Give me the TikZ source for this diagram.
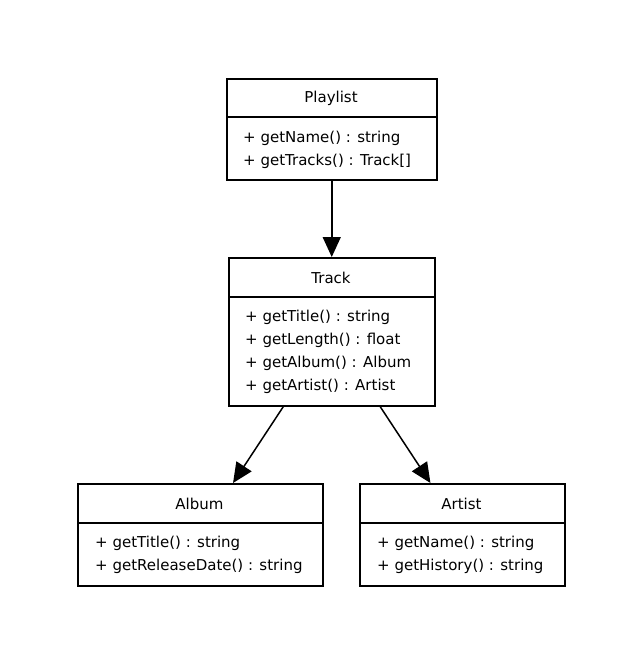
\documentclass[tikz,border=0pt]{standalone}
\usepackage{fontspec}
\setmainfont{DejaVu Sans}
\usetikzlibrary{arrows.meta,calc}
\begin{document}
\begin{tikzpicture}[x=1pt,y=-1pt,
  cls/.style={draw,line width=1.5pt,rectangle,inner sep=0pt,anchor=north west},
  sep/.style={line width=1.5pt},
  ttl/.style={font=\fontsize{15}{17}\selectfont,inner sep=0pt},
  mth/.style={font=\fontsize{15}{17}\selectfont,inner sep=0pt,anchor=west},
  arr/.style={line width=1.5pt,-{Triangle[length=20pt,width=18pt]}}]
\useasboundingbox (0,0) rectangle (642,670);
% Playlist
\node[cls,minimum width=210pt,minimum height=101pt] (playlist) at (226,78) {};
\draw[sep] ([yshift=-39pt]playlist.north west) -- ([yshift=-39pt]playlist.north east);
\node[ttl] (playlistT) at (331,98) {Playlist};
\node[mth] (playlistM1) at (243,138) {+ getName() : string};
\node[mth] (playlistM2) at (243,161) {+ getTracks() : Track[]};
% Track
\node[cls,minimum width=206pt,minimum height=148pt] (track) at (228,257) {};
\draw[sep] ([yshift=-40pt]track.north west) -- ([yshift=-40pt]track.north east);
\node[ttl] (trackT) at (331,278) {Track};
\node[mth] (trackM1) at (245,317) {+ getTitle() : string};
\node[mth] (trackM2) at (245,340) {+ getLength() : float};
\node[mth] (trackM3) at (245,363) {+ getAlbum() : Album};
\node[mth] (trackM4) at (245,386) {+ getArtist() : Artist};
% Album
\node[cls,minimum width=245pt,minimum height=102pt] (album) at (77,483) {};
\draw[sep] ([yshift=-40pt]album.north west) -- ([yshift=-40pt]album.north east);
\node[ttl] (albumT) at (199.5,504) {Album};
\node[mth] (albumM1) at (95,543) {+ getTitle() : string};
\node[mth] (albumM2) at (95,566) {+ getReleaseDate() : string};
% Artist
\node[cls,minimum width=205pt,minimum height=102pt] (artist) at (359,483) {};
\draw[sep] ([yshift=-40pt]artist.north west) -- ([yshift=-40pt]artist.north east);
\node[ttl] (artistT) at (461.5,504) {Artist};
\node[mth] (artistM1) at (377,543) {+ getName() : string};
\node[mth] (artistM2) at (377,566) {+ getHistory() : string};
% connectors
\draw[arr] (playlist.south) -- (playlist.south |- track.north);
\draw[arr] ($(track.south west)!0.267!(track.south east)$) -- ($(album.north west)!0.633!(album.north east)$);
\draw[arr] ($(track.south west)!0.733!(track.south east)$) -- ($(artist.north west)!0.346!(artist.north east)$);
\end{tikzpicture}
\end{document}
